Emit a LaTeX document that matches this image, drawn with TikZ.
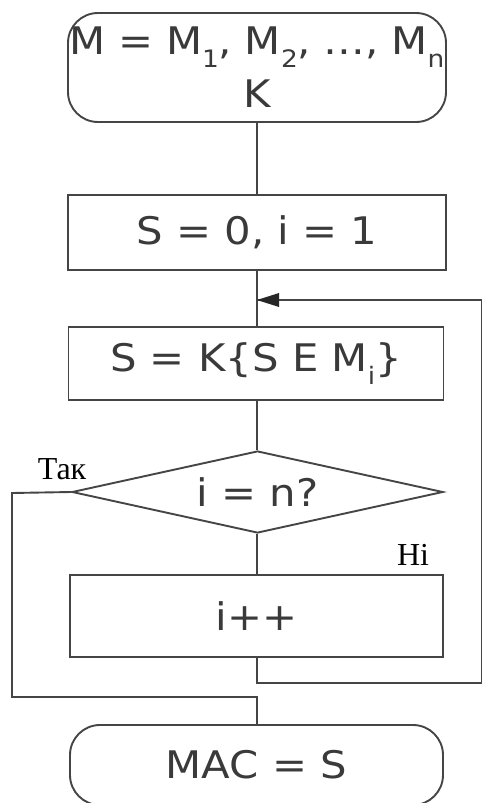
\documentclass[tikz,border=0pt]{standalone}
\usepackage{fontspec}
\setmainfont{DejaVu Sans}[FakeStretch=1.1]
\newfontfamily\lblfont{Liberation Serif}
\usetikzlibrary{shapes.geometric,arrows.meta}
\definecolor{ln}{HTML}{454545}
\definecolor{tx}{HTML}{3A3A3A}
\newcommand{\lowsub}[1]{\raisebox{-0.32em}{\fontsize{24}{24}\selectfont #1}}
\tikzset{
  blk/.style={draw=ln, line width=1.9pt, text=tx, inner sep=0pt, align=center,
    font=\fontsize{38}{53}\selectfont},
  term/.style={blk, rounded corners=30pt},
  decis/.style={blk, shape=diamond, aspect=4.5},
  conn/.style={draw=ln, line width=1.9pt},
  lbl/.style={font=\lblfont\fontsize{32}{33}\selectfont, text=black, inner sep=0pt}
}
\begin{document}
\begin{tikzpicture}[x=1pt,y=-1pt]
\useasboundingbox (0,0) rectangle (483,803);
\node[term, minimum width=378pt, minimum height=109pt, text width=378pt] (start) at (257,67.5)
  {\makebox[378pt][c]{M = M\lowsub{1}, M\lowsub{2}, …, M\lowsub{n}}\\K};
\node[blk, minimum width=378pt, minimum height=75pt] (init) at (257,232.5) {S = 0, i = 1};
\node[blk, minimum width=375pt, minimum height=73pt] (calc) at (256,363.5) {S = K\{S E M\lowsub{i}\}};
\node[decis, minimum width=371pt, minimum height=82pt] (test) at (257.5,492) {i = n?};
\node[blk, minimum width=373pt, minimum height=82pt] (inc) at (256.5,616) {i++};
\node[term, minimum width=373pt, minimum height=80pt] (fin) at (256.5,765) {MAC = S};
\node[lbl] (yes) at (62,469) {Так};
\node[lbl] (no) at (413,555) {Ні};
\coordinate (tl) at (12,493);
\coordinate (bl) at (12,697);
\coordinate (bm) at (257,697);
\coordinate (r1) at (257,683);
\coordinate (r2) at (481.5,683);
\coordinate (r3) at (481.5,300);
\coordinate (ret) at (257,300);
\draw[conn] (start.south -| init.north) -- (init.north);
\draw[conn] (init.south) -- (calc.north -| init.south);
\draw[conn] (calc.south -| init.south) -- (test.north -| init.south);
\draw[conn] (test.south -| init.south) -- (inc.north -| init.south);
\draw[conn] (test.west) -- (tl) -- (bl) -- (bm) -- (fin.north -| bm);
\draw[conn] (inc.south -| r1) -- (r1) -- (r2) -- (r3) -- (ret);
\draw[draw=none, fill=black!85] (ret) -- ++(22,-7) -- ++(0,14) -- cycle;
\end{tikzpicture}
\end{document}
